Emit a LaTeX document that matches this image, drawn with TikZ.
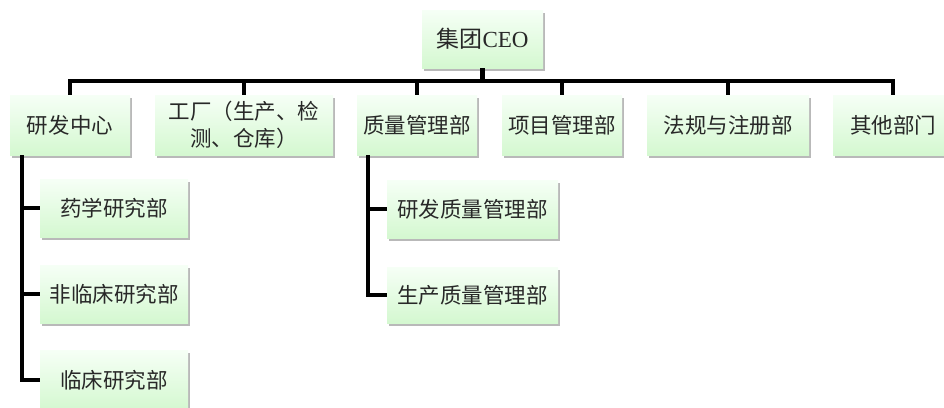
\documentclass[tikz,border=0pt]{standalone}
\usepackage{fontspec}
\setmainfont{Liberation Serif}
\newfontfamily\cjk{Noto Sans CJK SC}
\usetikzlibrary{shadows,calc}
\definecolor{gtop}{RGB}{246,255,246}
\definecolor{gbot}{RGB}{212,248,208}
\definecolor{txt}{RGB}{40,40,40}
\tikzset{
  orgbox/.style={rectangle, top color=gtop, bottom color=gbot, draw=none,
    minimum height=58pt, inner sep=2pt, align=center, text=txt,
    font=\fontsize{21.5}{27}\selectfont\cjk,
    drop shadow={shadow xshift=2pt, shadow yshift=-3pt, fill=black!50, opacity=0.55}},
  conn/.style={line width=4.5pt, draw=black, line join=miter}
}
\begin{document}
\begin{tikzpicture}[x=1pt,y=-1pt]
\useasboundingbox (0,0) rectangle (944,407);
\node[orgbox, minimum width=121pt, font=\fontsize{23}{27}\selectfont] (ceo) at (482.5,39) {{\cjk 集团}CEO};
\node[orgbox, minimum width=120pt, minimum height=60pt] (rd) at (70,125) {研发中心};
\node[orgbox, minimum width=178pt, minimum height=60pt] (fac) at (244,125) {工厂（生产、检\\测、仓库）};
\node[orgbox, minimum width=120pt, minimum height=60pt] (qa) at (417,125) {质量管理部};
\node[orgbox, minimum width=120pt, minimum height=60pt] (pm) at (562,125) {项目管理部};
\node[orgbox, minimum width=162pt, minimum height=60pt] (reg) at (728,125) {法规与注册部};
\node[orgbox, minimum width=120pt, minimum height=60pt] (oth) at (893,125) {其他部门};
\node[orgbox, minimum width=148pt] (s1) at (114,208) {药学研究部};
\node[orgbox, minimum width=148pt] (s2) at (114,294) {非临床研究部};
\node[orgbox, minimum width=148pt, minimum height=60pt] (s3) at (114,380) {临床研究部};
\node[orgbox, minimum width=171pt] (q1) at (472.5,209) {研发质量管理部};
\node[orgbox, minimum width=171pt, minimum height=56pt] (q2) at (472.5,295) {生产质量管理部};
\coordinate (bus) at (0,81);
\draw[conn] (ceo.south) -- (ceo.south |- bus);
\draw[conn] (rd.north) -- (rd.north |- bus) -- (oth.north |- bus) -- (oth.north);
\foreach \n in {fac,qa,pm,reg} \draw[conn] (\n.north) -- (\n.north |- bus);
\coordinate (rdl) at ($(rd.south west)+(12,0)$);
\coordinate (qal) at ($(qa.south west)+(11,0)$);
\draw[conn] (rdl) |- (s3.west);
\draw[conn] (s1.west) -- (s1.west -| rdl);
\draw[conn] (s2.west) -- (s2.west -| rdl);
\draw[conn] (qal) |- (q2.west);
\draw[conn] (q1.west) -- (q1.west -| qal);
\end{tikzpicture}
\end{document}
